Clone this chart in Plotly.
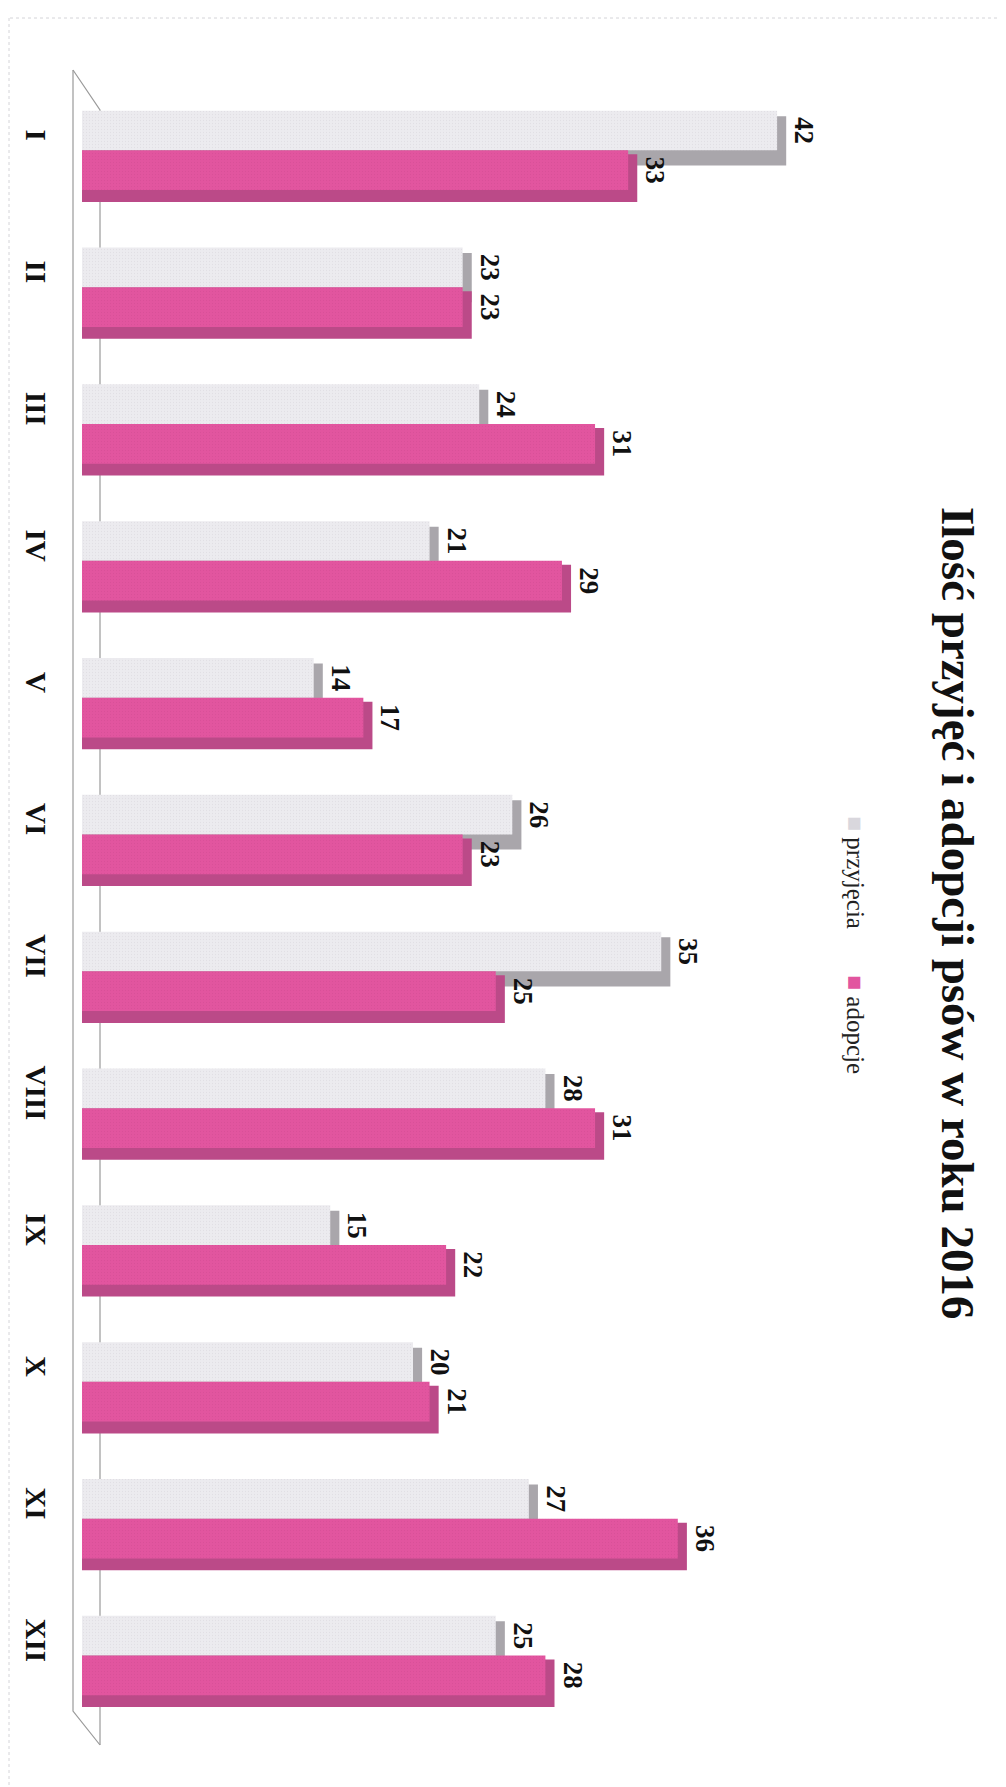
import plotly.graph_objects as go

# ---- data ----
miesiace = ["I", "II", "III", "IV", "V", "VI", "VII", "VIII", "IX", "X", "XI", "XII"]
przyjecia = [42, 23, 24, 21, 14, 26, 35, 28, 15, 20, 27, 25]
adopcje = [33, 23, 31, 29, 17, 23, 25, 31, 22, 21, 36, 28]
tytul = "Ilość przyjęć i adopcji psów w roku 2016"
nazwy = ["przyjęcia", "adopcje"]

# ---- layout geometry (pixels) ----
W, H = 1006, 1787
PL, PR = 74, 900          # plot area left/right
PT, PB = 63, 1705         # plot area top/bottom
XMAX = (PR - PL) / 16.55  # data units visible
DEPTH = 0.55              # 3D depth of bars in value units (decorative)

def px_x(p):
    return (p - PL) / (PR - PL)

def px_y(p):
    return (PB - p) / (PB - PT)

GREY_FRONT = "#ecebef"
GREY_SIDE = "#a9a6ab"
PINK_FRONT = "#e2559f"
PINK_SIDE = "#bb4a88"
SERIF = "Liberation Serif, Times New Roman, serif"

G_OFF, G_W = -0.21, 0.29
P_OFF, P_W = 0.08, 0.29

fig = go.Figure()

# grey depth (side + bottom face)
fig.add_trace(go.Bar(
    y=miesiace, x=[v + DEPTH for v in przyjecia], orientation="h",
    offset=-0.17, width=0.36,
    marker=dict(color=GREY_SIDE, line=dict(width=0)),
    showlegend=False, hoverinfo="skip",
))
# grey front
fig.add_trace(go.Bar(
    y=miesiace, x=przyjecia, orientation="h", name=nazwy[0],
    offset=G_OFF, width=G_W,
    marker=dict(color=GREY_FRONT, line=dict(width=0),
                pattern=dict(shape=".", size=3, solidity=0.15,
                             fgcolor="#d6d3da", bgcolor=GREY_FRONT)),
    showlegend=False,
))
# pink depth
fig.add_trace(go.Bar(
    y=miesiace, x=[v + DEPTH for v in adopcje], orientation="h",
    offset=0.109, width=0.348,
    marker=dict(color=PINK_SIDE, line=dict(width=0)),
    showlegend=False, hoverinfo="skip",
))
# pink front
fig.add_trace(go.Bar(
    y=miesiace, x=adopcje, orientation="h", name=nazwy[1],
    offset=P_OFF, width=P_W,
    marker=dict(color=PINK_FRONT, line=dict(width=0),
                pattern=dict(shape=".", size=3, solidity=0.15,
                             fgcolor="#cf4c92", bgcolor=PINK_FRONT)),
    showlegend=False,
))
# transparent carriers for the value labels (placed past the 3D side face)
for vals, off, wd in [(przyjecia, G_OFF, G_W), (adopcje, P_OFF, P_W)]:
    fig.add_trace(go.Bar(
        y=miesiace, x=[v + DEPTH for v in vals], orientation="h",
        offset=off, width=wd,
        marker=dict(color="rgba(0,0,0,0)", line=dict(width=0)),
        text=[str(v) for v in vals], textposition="outside", textangle=90,
        textfont=dict(family=SERIF, size=27, color="#111111", weight="bold"),
        constraintext="none", cliponaxis=False, showlegend=False, hoverinfo="skip",
    ))

shapes = []
line_style = dict(color="#9a9a9a", width=1.2)
# 3D wall of category axis
shapes.append(dict(type="path", xref="paper", yref="paper",
                   path=f"M {px_x(65)},{px_y(62)} L {px_x(65)},{px_y(1703)} L {px_x(92)},{px_y(1737)}",
                   line=line_style))
shapes.append(dict(type="path", xref="paper", yref="paper",
                   path=f"M {px_x(65)},{px_y(62)} L {px_x(92)},{px_y(102)} L {px_x(92)},{px_y(1737)}",
                   line=line_style, layer="below"))
# faint page frame of the scan
frame = dict(color="#d4d4d8", width=1, dash="dot")
shapes.append(dict(type="line", xref="paper", yref="paper",
                   x0=px_x(2), x1=px_x(998), y0=px_y(10), y1=px_y(10), line=frame))
shapes.append(dict(type="line", xref="paper", yref="paper",
                   x0=px_x(998), x1=px_x(998), y0=px_y(10), y1=px_y(1787), line=frame))
shapes.append(dict(type="line", xref="paper", yref="paper",
                   x0=px_x(1), x1=px_x(1), y0=px_y(10), y1=px_y(1787), line=frame))

legend_font = dict(family=SERIF, size=25, color="#222222")
annotations = [
    dict(text=f"<b>{tytul}</b>", xref="paper", yref="paper",
         x=px_x(950), y=px_y(905), textangle=90, showarrow=False,
         font=dict(family=SERIF, size=47, color="#111111"),
         xanchor="center", yanchor="middle"),
    dict(text=f'<span style="color:#d9d7dd">■</span> {nazwy[0]}',
         xref="paper", yref="paper",
         x=px_x(848), y=px_y(864), textangle=90, showarrow=False,
         font=legend_font, xanchor="center", yanchor="middle"),
    dict(text=f'<span style="color:{PINK_FRONT}">■</span> {nazwy[1]}',
         xref="paper", yref="paper",
         x=px_x(848), y=px_y(1016), textangle=90, showarrow=False,
         font=legend_font, xanchor="center", yanchor="middle"),
]

fig.update_layout(
    width=W, height=H,
    margin=dict(l=PL, r=W - PR, t=PT, b=H - PB, pad=0),
    paper_bgcolor="white", plot_bgcolor="white",
    barmode="overlay",
    showlegend=False,
    shapes=shapes,
    annotations=annotations,
    xaxis=dict(range=[0, XMAX], showgrid=False, zeroline=False,
               showline=False, showticklabels=False, ticks=""),
    yaxis=dict(type="category", categoryorder="array", categoryarray=miesiace,
               range=[11.5, -0.5], showgrid=False, zeroline=False,
               showline=False, ticks="", tickangle=90,
               ticklabelstandoff=26,
               tickfont=dict(family=SERIF, size=29, color="#111111", weight="bold")),
    font=dict(family=SERIF),
)

fig.write_html("out.html")
